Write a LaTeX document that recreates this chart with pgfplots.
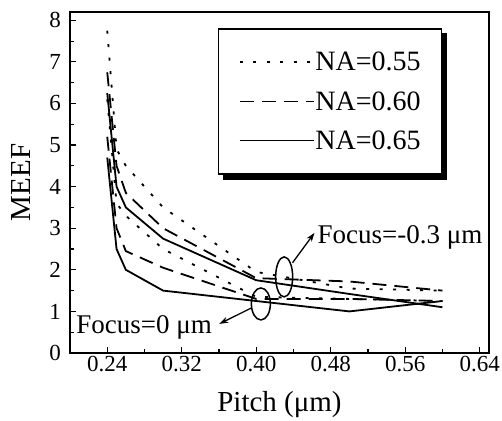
\documentclass[border=0pt]{standalone}
\usepackage{fontspec}
\setmainfont{Liberation Serif}
\usepackage{pgfplots}
\pgfplotsset{compat=1.18}
\usetikzlibrary{arrows.meta}

\begin{document}
\begin{tikzpicture}
\begin{axis}[
  scale only axis, width=419pt, height=341pt,
  xmin=0.2, xmax=0.65, ymin=0, ymax=8.2,
  xtick={0.24,0.32,0.40,0.48,0.56,0.64},
  ytick={0,1,2,3,4,5,6,7,8},
  minor x tick num=1, minor y tick num=1,
  tick align=inside, xtick pos=bottom, ytick pos=left,
  major tick length=6pt, minor tick length=4pt,
  every tick/.style={line width=1.2pt, black},
  axis line style={line width=1.6pt},
  /pgf/number format/assume math mode=true,
  tick label style={font=\fontsize{23}{23}\selectfont},
  xticklabel style={/pgf/number format/fixed, /pgf/number format/fixed zerofill, /pgf/number format/precision=2,
    anchor=base, yshift=-18.7pt, inner sep=0pt},
  yticklabel style={anchor=east, inner sep=0pt, xshift=-9pt},
  xlabel={Pitch (μm)}, ylabel={MEEF},
  every axis x label/.style={at={(axis description cs:0.5,0)}, anchor=base, yshift=-58.7pt, inner sep=0pt, font=\fontsize{29}{29}\selectfont},
  every axis y label/.style={at={(axis description cs:-0.094,0.5)}, rotate=90, anchor=south, inner sep=0pt, font=\fontsize{29}{29}\selectfont},
  legend cell align=left,
  legend image code/.code={\draw[#1] (0pt,0pt) -- (74pt,0pt);},
  legend style={name=leg, at={(0.353,0.953)}, anchor=north west, draw=black, line width=1.5pt, fill=white,
    font=\fontsize{28}{28}\selectfont, inner xsep=20pt, inner ysep=14pt, row sep=0pt,
    nodes={inner xsep=1pt, inner ysep=9.5pt}},
  clip=false,
]
% Focus = -0.3 um
\addplot[black, line width=1.8pt, dash pattern=on 3pt off 10.5pt] coordinates {
 (0.24,7.75) (0.25,4.9) (0.26,4.5) (0.30,3.5) (0.40,1.95) (0.50,1.55) (0.60,1.5)};
\addlegendentry{NA=0.55}
\addplot[black, line width=1.8pt, dash pattern=on 14pt off 8pt] coordinates {
 (0.24,6.75) (0.25,4.5) (0.26,3.85) (0.30,3.0) (0.40,1.8) (0.50,1.72) (0.60,1.5)};
\addlegendentry{NA=0.60}
\addplot[black, line width=1.8pt] coordinates {
 (0.24,6.25) (0.25,4.0) (0.26,3.5) (0.30,2.75) (0.40,1.75) (0.50,1.42) (0.60,1.1)};
\addlegendentry{NA=0.65}
% Focus = 0 um
\addplot[black, line width=1.8pt, dash pattern=on 3pt off 10.5pt, forget plot] coordinates {
 (0.24,6.1) (0.25,3.6) (0.26,3.3) (0.30,2.5) (0.40,1.35) (0.50,1.3) (0.60,1.25)};
\addplot[black, line width=1.8pt, dash pattern=on 14pt off 8pt, forget plot] coordinates {
 (0.24,5.2) (0.25,3.0) (0.26,2.45) (0.30,2.05) (0.40,1.3) (0.50,1.3) (0.60,1.25)};
\addplot[black, line width=1.8pt, forget plot] coordinates {
 (0.24,4.7) (0.25,2.5) (0.26,2.0) (0.30,1.5) (0.40,1.25) (0.50,1.0) (0.60,1.25)};
% annotations
\draw[line width=1.5pt] (axis cs:0.405,1.18) ellipse [x radius=9.5pt, y radius=16pt];
\draw[line width=1.5pt] (axis cs:0.430,1.83) ellipse [x radius=8.5pt, y radius=20pt];
\draw[line width=1.3pt, -{Stealth[length=9pt,width=6pt]}] (axis cs:0.3945,1.08) -- (axis cs:0.3604,0.70);
\draw[line width=1.3pt, -{Stealth[length=9pt,width=6pt]}] (axis cs:0.439,2.17) -- (axis cs:0.4626,2.89);
\node[anchor=base west, inner sep=0pt, font=\fontsize{27}{27}\selectfont] at (axis cs:0.2067,0.46) {Focus=0 μm};
\node[anchor=base west, inner sep=0pt, font=\fontsize{27}{27}\selectfont] at (axis cs:0.4658,2.64) {Focus=-0.3 μm};
\end{axis}
% legend shadow
\fill[black] ([yshift=-5pt]leg.north east) rectangle ([xshift=5pt,yshift=-5pt]leg.south east);
\fill[black] ([xshift=5pt]leg.south west) rectangle ([xshift=5pt,yshift=-5pt]leg.south east);
\path (current axis.south west) +(-70pt,-68pt) rectangle ([xshift=13pt,yshift=12pt]current axis.north east);
\end{tikzpicture}
\end{document}
